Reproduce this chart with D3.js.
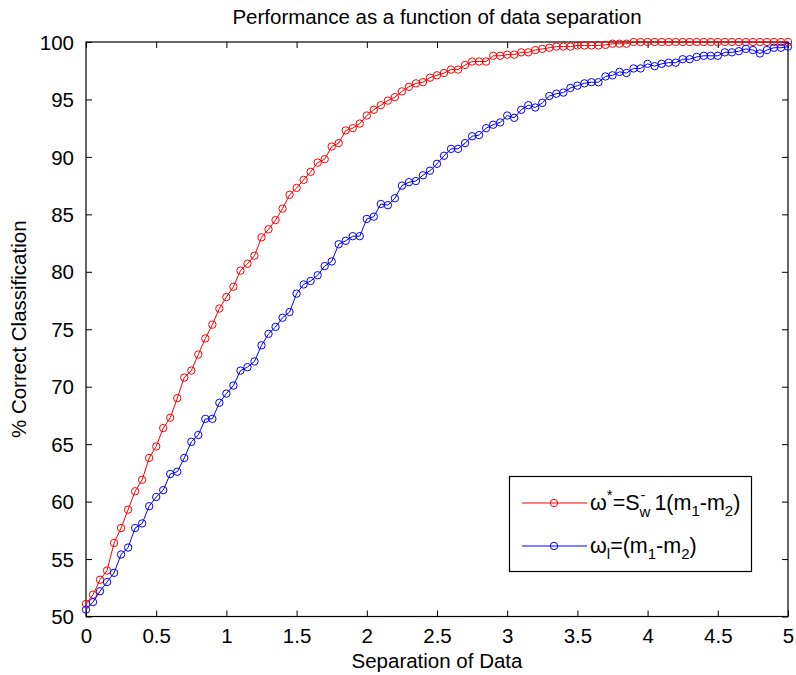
<!DOCTYPE html>
<html><head><meta charset="utf-8">
<script src="https://cdn.jsdelivr.net/npm/d3@7"></script>
<style>body{margin:0;background:#fff}svg{display:block}text{font-family:"Liberation Sans",Arial,sans-serif}</style>
</head><body>
<svg id="chart" width="796" height="675"></svg>
<script>
const separation = [0,0.05,0.1,0.15,0.2,0.25,0.3,0.35,0.4,0.45,0.5,0.55,0.6,0.65,0.7,0.75,0.8,0.85,0.9,0.95,
1,1.05,1.1,1.15,1.2,1.25,1.3,1.35,1.4,1.45,1.5,1.55,1.6,1.65,1.7,1.75,1.8,1.85,1.9,1.95,
2,2.05,2.1,2.15,2.2,2.25,2.3,2.35,2.4,2.45,2.5,2.55,2.6,2.65,2.7,2.75,2.8,2.85,2.9,2.95,
3,3.05,3.1,3.15,3.2,3.25,3.3,3.35,3.4,3.45,3.5,3.55,3.6,3.65,3.7,3.75,3.8,3.85,3.9,3.95,
4,4.05,4.1,4.15,4.2,4.25,4.3,4.35,4.4,4.45,4.5,4.55,4.6,4.65,4.7,4.75,4.8,4.85,4.9,4.95,5];
const fisherValues = [51.1,51.9,53.2,54.0,56.4,57.7,59.3,60.9,61.9,63.8,64.8,66.4,67.3,69.0,70.8,71.4,72.8,74.2,75.4,76.8,
77.8,78.7,80.1,80.7,81.4,83.0,83.7,84.5,85.5,86.7,87.3,88.0,88.7,89.5,89.8,90.9,91.2,92.3,92.5,92.9,
93.6,94.1,94.5,94.9,95.2,95.7,96.1,96.4,96.5,96.9,97.1,97.3,97.6,97.6,98.0,98.3,98.3,98.3,98.8,98.8,
98.9,98.9,99.1,99.1,99.3,99.4,99.5,99.6,99.6,99.6,99.7,99.7,99.7,99.7,99.75,99.85,99.85,99.85,100,100,
100,100,100,100,100,100,100,100,100,100,100,100,100,100,100,100,100,100,100,100,100];
const meanDiffValues = [50.6,51.25,52.2,53.0,53.8,55.4,56.0,57.7,58.1,59.6,60.4,61.0,62.4,62.6,63.8,65.2,65.8,67.2,67.2,68.6,
69.4,70.1,71.4,71.7,72.2,73.6,74.6,75.2,76.0,76.5,78.1,78.9,79.2,79.7,80.5,80.9,82.4,82.7,83.1,83.1,
84.6,84.8,85.9,85.8,86.4,87.5,87.8,87.9,88.4,88.8,89.4,90.1,90.7,90.7,91.2,91.8,91.9,92.5,92.8,93.0,
93.6,93.4,94.1,94.5,94.3,94.7,95.3,95.5,95.6,96.0,96.2,96.4,96.5,96.5,97.0,97.1,97.4,97.3,97.7,97.7,
98.1,97.9,98.1,98.2,98.2,98.5,98.5,98.7,98.8,98.8,98.8,99.1,99.1,99.2,99.4,99.3,99.0,99.3,99.5,99.5,99.6];
const xTicks = [0,0.5,1,1.5,2,2.5,3,3.5,4,4.5,5];
const yTicks = [50,55,60,65,70,75,80,85,90,95,100];

const svg = d3.select("#chart");
const L = 86, R = 788, T = 42, B = 616.5;
const x = d3.scaleLinear().domain([0,5]).range([L,R]);
const y = d3.scaleLinear().domain([50,100]).range([B,T]);
const fs = 20.5;

// box
svg.append("rect").attr("x",L).attr("y",T).attr("width",R-L).attr("height",B-T)
  .attr("fill","none").attr("stroke","#000").attr("stroke-width",1.2);

// axes (inward ticks)
const fmt = d => String(d);
const gx = svg.append("g").attr("transform",`translate(0,${B})`)
  .call(d3.axisBottom(x).tickValues(xTicks).tickSizeInner(-6).tickSizeOuter(0).tickPadding(12).tickFormat(fmt));
const gxt = svg.append("g").attr("transform",`translate(0,${T})`)
  .call(d3.axisTop(x).tickValues(xTicks).tickSizeInner(-6).tickSizeOuter(0).tickFormat(""));
const gy = svg.append("g").attr("transform",`translate(${L},0)`)
  .call(d3.axisLeft(y).tickValues(yTicks).tickSizeInner(-6).tickSizeOuter(0).tickPadding(12).tickFormat(fmt));
const gyr = svg.append("g").attr("transform",`translate(${R},0)`)
  .call(d3.axisRight(y).tickValues(yTicks).tickSizeInner(-6).tickSizeOuter(0).tickFormat(""));
[gx,gxt,gy,gyr].forEach(g=>{
  g.select(".domain").remove();
  g.selectAll(".tick line").attr("stroke","#000").attr("stroke-width",1);
  g.selectAll("text").attr("font-size",fs).attr("fill","#000").attr("font-family","Liberation Sans, Arial, sans-serif");
});
gy.selectAll(".tick text").attr("dy","0.35em");

// title and labels
svg.append("text").attr("x",(L+R)/2).attr("y",24).attr("text-anchor","middle")
  .attr("font-size",fs).text("Performance as a function of data separation");
svg.append("text").attr("x",(L+R)/2).attr("y",668).attr("text-anchor","middle")
  .attr("font-size",fs).text("Separation of Data");
svg.append("text").attr("transform",`translate(26,${(T+B)/2}) rotate(-90)`).attr("text-anchor","middle")
  .attr("font-size",fs).text("% Correct Classification");

// series
const series = [
  {name:"fisher", values:fisherValues, color:"#ff0000"},
  {name:"mean", values:meanDiffValues, color:"#0000ff"}
];
const line = d3.line().x((d,i)=>x(separation[i])).y(d=>y(d));
series.forEach(s=>{
  svg.append("path").datum(s.values).attr("d",line).attr("fill","none")
    .attr("stroke",s.color).attr("stroke-width",1);
  svg.append("g").selectAll("circle").data(s.values).join("circle")
    .attr("cx",(d,i)=>x(separation[i])).attr("cy",d=>y(d)).attr("r",3.7)
    .attr("fill","none").attr("stroke",s.color).attr("stroke-width",1);
});

// legend
const lg = svg.append("g");
lg.append("rect").attr("x",509.5).attr("y",476.5).attr("width",242).attr("height",95)
  .attr("fill","#fff").attr("stroke","#000").attr("stroke-width",1.2);
const rows = [{color:"#ff0000", yy:503},{color:"#0000ff", yy:546}];
rows.forEach(r=>{
  lg.append("line").attr("x1",522).attr("x2",587).attr("y1",r.yy).attr("y2",r.yy)
    .attr("stroke",r.color).attr("stroke-width",1);
  lg.append("circle").attr("cx",554).attr("cy",r.yy).attr("r",3.7)
    .attr("fill","none").attr("stroke",r.color).attr("stroke-width",1);
});
const lfs = 21.5, sfs = 15;
const t1 = lg.append("text").attr("x",590).attr("y",rows[0].yy+7).attr("font-size",lfs);
t1.append("tspan").text("ω");
t1.append("tspan").attr("font-size",sfs).attr("dy",-10).text("*");
t1.append("tspan").attr("dy",10).text("=S");
t1.append("tspan").attr("font-size",sfs).attr("dy",7).text("w");
t1.append("tspan").attr("font-size",sfs).attr("dx",-10).attr("dy",-17).text("-");
t1.append("tspan").attr("dy",10).attr("dx",9).text("1(m");
t1.append("tspan").attr("font-size",sfs).attr("dy",6).text("1");
t1.append("tspan").attr("dy",-6).text("-m");
t1.append("tspan").attr("font-size",sfs).attr("dy",6).text("2");
t1.append("tspan").attr("dy",-6).text(")");
const t2 = lg.append("text").attr("x",590).attr("y",rows[1].yy+7).attr("font-size",lfs);
t2.append("tspan").text("ω");
t2.append("tspan").attr("font-size",sfs).attr("dy",6).text("l");
t2.append("tspan").attr("dy",-6).text("=(m");
t2.append("tspan").attr("font-size",sfs).attr("dy",6).text("1");
t2.append("tspan").attr("dy",-6).text("-m");
t2.append("tspan").attr("font-size",sfs).attr("dy",6).text("2");
t2.append("tspan").attr("dy",-6).text(")");
</script>
</body></html>
